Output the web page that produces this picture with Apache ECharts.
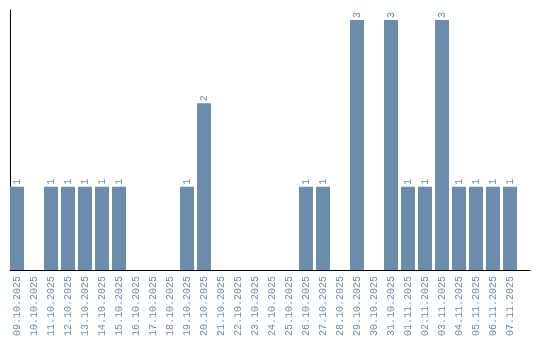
<!DOCTYPE html>
<html><head><meta charset="utf-8">
<script src="https://cdn.jsdelivr.net/npm/echarts@6/dist/echarts.min.js"></script>
<style>html,body{margin:0;padding:0;background:#fff}#c{width:540px;height:340px}</style>
</head><body><div id="c"></div>
<script>
const categories = ["09.10.2025","10.10.2025","11.10.2025","12.10.2025","13.10.2025","14.10.2025","15.10.2025","16.10.2025","17.10.2025","18.10.2025","19.10.2025","20.10.2025","21.10.2025","22.10.2025","23.10.2025","24.10.2025","25.10.2025","26.10.2025","27.10.2025","28.10.2025","29.10.2025","30.10.2025","31.10.2025","01.11.2025","02.11.2025","03.11.2025","04.11.2025","05.11.2025","06.11.2025","07.11.2025"];
const counts = [1,0,1,1,1,1,1,0,0,0,1,2,0,0,0,0,0,1,1,0,3,0,3,1,1,3,1,1,1,1];
const barColor = '#6b8cab';
const font = 'Liberation Mono';
const chart = echarts.init(document.getElementById('c'), null, {renderer:'canvas'});
chart.setOption({
  animation:false,
  grid:[
    {left:8.5, top:10, width:510, height:260},
    {left:10, right:10, top:10, bottom:70}
  ],
  xAxis:[
    {type:'category', gridIndex:0, data:categories,
     axisLine:{show:false}, axisTick:{show:false},
     axisLabel:{rotate:90, interval:0, fontSize:10, fontFamily:font, color:barColor, margin:6}},
    {type:'value', gridIndex:1, min:0, max:1,
     axisLine:{show:true, lineStyle:{color:'#000', width:1}}, axisTick:{show:false},
     axisLabel:{show:false}, splitLine:{show:false}}
  ],
  yAxis:[
    {type:'value', gridIndex:0, min:0, max:3.12, show:false},
    {type:'value', gridIndex:1, min:0, max:1,
     axisLine:{show:true, lineStyle:{color:'#000', width:1}}, axisTick:{show:false},
     axisLabel:{show:false}, splitLine:{show:false}}
  ],
  series:[{
    type:'bar', xAxisIndex:0, yAxisIndex:0, data:counts, barWidth:14,
    itemStyle:{color:barColor},
    label:{show:true, position:'top', rotate:90, align:'left', verticalAlign:'middle', distance:2,
      fontSize:10, fontFamily:font, color:barColor,
      formatter:p=>p.value>0?String(p.value):''}
  }]
});
</script></body></html>
